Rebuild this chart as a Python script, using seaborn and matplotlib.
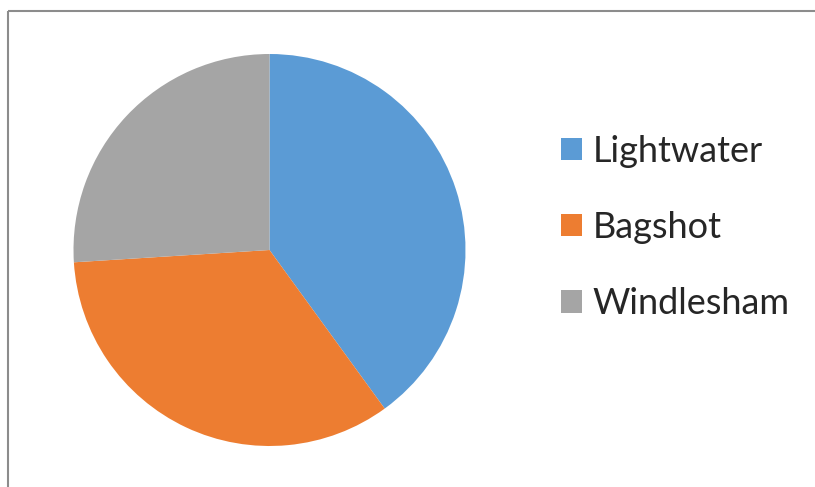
import matplotlib
matplotlib.use('Agg')
import matplotlib.pyplot as plt
from matplotlib.lines import Line2D
import seaborn as sns

# Data (shares in percent)
towns = ['Lightwater', 'Bagshot', 'Windlesham']
shares = [40, 34, 26]
colors = ['#5B9BD5', '#ED7D31', '#A5A5A5']

sns.set_theme(style='white')
plt.rcParams['font.family'] = ['Lato', 'DejaVu Sans']

W, H = 815, 487
fig = plt.figure(figsize=(W / 100, H / 100), dpi=100)
fig.patch.set_facecolor('white')

# Pie axes placed by pixel box of the circle
cx, cy, r = 269.5, 250, 196
ax = fig.add_axes([(cx - r) / W, (H - cy - r) / H, 2 * r / W, 2 * r / H])
wedges, _ = ax.pie(shares, colors=colors, startangle=90, counterclock=False,
                   radius=1, wedgeprops=dict(linewidth=0))
ax.set_xlim(-1, 1)
ax.set_ylim(-1, 1)
ax.set_aspect('equal')
ax.axis('off')

# Legend on the right
fig.legend(wedges, towns, loc='upper left',
           bbox_to_anchor=(561 / W, 1 - 134.5 / H),
           frameon=False, fontsize=26, handlelength=0.58, handleheight=0.58,
           handletextpad=0.3, labelspacing=1.2, borderpad=0, borderaxespad=0)

# Chart area border (left and top edges visible)
border = dict(color='#8c8c8c', linewidth=1.5, solid_capstyle='butt',
              transform=fig.transFigure)
fig.add_artist(Line2D([8 / W, 8 / W], [-0.01, 1 - 10.5 / H], **border))
fig.add_artist(Line2D([8 / W, 1.01], [1 - 10.5 / H, 1 - 10.5 / H], **border))

fig.savefig('out.png', dpi=100)
